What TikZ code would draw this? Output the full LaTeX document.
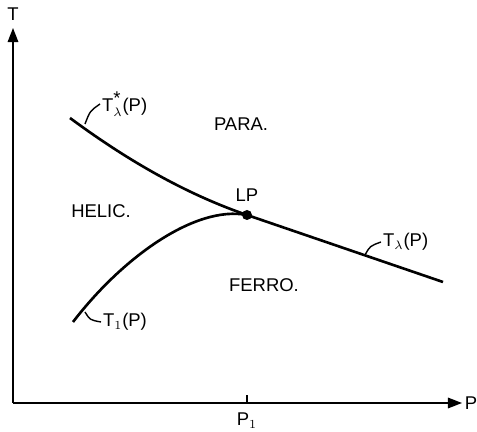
\documentclass[tikz,border=0pt]{standalone}
\usepackage{fontspec}
\setmainfont{Liberation Sans}
\usetikzlibrary{arrows.meta, positioning}

\begin{document}
\begin{tikzpicture}[
  x=0.02cm, y=-0.02cm,
  axis/.style={line width=0.9pt, -{Triangle[length=8pt, width=6pt]}},
  phase/.style={line width=1.5pt},
  leader/.style={line width=0.8pt},
  region/.style={font=\fontsize{10.5}{12}\selectfont},
  tag/.style={font=\fontsize{10.5}{12}\selectfont, anchor=west, inner sep=1pt}
]
  \useasboundingbox (0,0) rectangle (477,432);

  % Axes
  \coordinate (O) at (13,403);
  \coordinate (Ttip) at (13,28);
  \coordinate (Ptip) at (462,403);
  \draw[axis] (O) -- (Ttip);
  \draw[axis] (O) -- (Ptip);
  \node[region] (Tlab) at (13,14) {T};
  \node[region] (Plab) at (471,403) {P};

  % Tick at P1
  \coordinate (tick) at (247,403);
  \draw[line width=0.9pt] (tick) -- ++(0,-8);
  \node[region, below=2pt of tick] (P1) {P$_1$};

  % Phase boundaries
  \coordinate (LP) at (247,215);
  \coordinate (ustart) at (70,118);
  \coordinate (lstart) at (73,322);
  \coordinate (rend) at (443,282);
  \draw[phase] (ustart) .. controls (120,155) and (180,192) .. (LP);
  \draw[phase] (LP) -- (rend);
  \draw[phase] (lstart) .. controls (122,258) and (195,205) .. (LP);
  \fill (LP) circle (5);
  \node[region, above=4pt of LP] (LPlab) {LP};

  % Regions
  \node[region] (para) at (241,124) {PARA.};
  \node[region] (helic) at (101,211) {HELIC.};
  \node[region] (ferro) at (264,285) {FERRO.};

  % Curve labels
  \node[tag] (Tstar) at (100,104) {T$_{\lambda}^{\mbox{*}}$(P)};
  \node[tag] (Tlam) at (381,242) {T$_{\lambda}$(P)};
  \node[tag] (Tone) at (101,322) {T$_1$(P)};
  \coordinate (a1) at (85,124);
  \coordinate (a2) at (365,255);
  \coordinate (a3) at (85,312);
  \draw[leader] (a1) .. controls (90,111) .. (Tstar.west);
  \draw[leader] (a2) .. controls (370,246) .. (Tlam.west);
  \draw[leader] (a3) .. controls (90,320) .. (Tone.west);

\end{tikzpicture}
\end{document}
